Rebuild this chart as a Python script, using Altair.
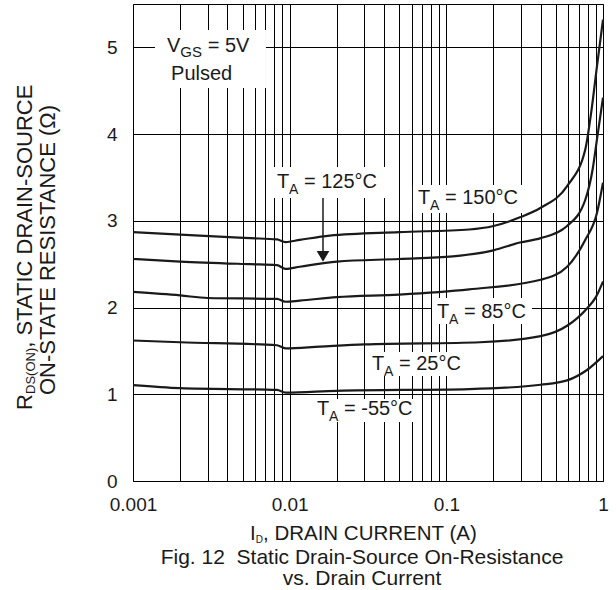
import json
import altair as alt
import pandas as pd

FONT = "Liberation Sans"
INK = "#1a1a1a"

# ---------------- data ----------------
temps = ["150", "125", "85", "25", "-55"]

i_150 = [0.001, 0.002, 0.0056, 0.0083, 0.0094, 0.0116, 0.018, 0.05, 0.14, 0.2, 0.295, 0.40, 0.59, 0.77, 0.845, 0.915, 1.0]
r_150 = [2.87, 2.84, 2.80, 2.785, 2.755, 2.78, 2.83, 2.87, 2.90, 2.94, 3.04, 3.15, 3.40, 3.82, 4.28, 4.78, 5.32]

i_125 = [0.001, 0.002, 0.0056, 0.0083, 0.0094, 0.0116, 0.02, 0.05, 0.11, 0.2, 0.295, 0.40, 0.59, 0.77, 0.86, 0.915, 1.0]
r_125 = [2.56, 2.53, 2.50, 2.49, 2.445, 2.47, 2.53, 2.56, 2.59, 2.66, 2.75, 2.80, 2.94, 3.24, 3.60, 3.94, 4.42]

i_85 = [0.001, 0.002, 0.003, 0.0083, 0.0094, 0.0116, 0.02, 0.05, 0.14, 0.40, 0.59, 0.77, 0.915, 1.0]
r_85 = [2.18, 2.14, 2.11, 2.10, 2.067, 2.08, 2.12, 2.15, 2.21, 2.32, 2.47, 2.78, 3.09, 3.44]

i_25 = [0.001, 0.002, 0.0083, 0.0094, 0.0156, 0.03, 0.164, 0.40, 0.59, 0.79, 0.90, 1.0]
r_25 = [1.62, 1.60, 1.565, 1.53, 1.55, 1.575, 1.60, 1.67, 1.79, 1.99, 2.12, 2.30]

i_m55 = [0.001, 0.002, 0.0083, 0.0094, 0.02, 0.14, 0.40, 0.59, 0.79, 1.0]
r_m55 = [1.105, 1.07, 1.05, 1.018, 1.04, 1.06, 1.11, 1.16, 1.28, 1.44]

currents = [i_150, i_125, i_85, i_25, i_m55]
resists = [r_150, r_125, r_85, r_25, r_m55]

x_grid = [m * 10 ** e for e in (-3, -2, -1) for m in range(1, 10)] + [1]
x_labels = ["0.001", "0.01", "0.1", "1"]
y_ticks = [0, 1, 2, 3, 4, 5]

# ---------------- annotations (data units) ----------------
ann_temps = ["150", "125", "85", "25", "-55"]
ann_x = [0.0659, 0.0083, 0.0871, 0.0335, 0.01494]
ann_y = [3.194, 3.382, 1.876, 1.280, 0.761]
box_x1 = [0.0612, 0.00749, 0.0810, 0.0307, 0.01368, 0.001381]
box_x2 = [0.3083, 0.04242, 0.3521, 0.1395, 0.0689, 0.00706]
box_y1 = [3.090, 3.263, 1.810, 1.211, 0.680, 4.531]
box_y2 = [3.413, 3.620, 2.110, 1.487, 0.945, 5.200]

rows = []
for t, ii, rr in zip(temps, currents, resists):
    for k, (a, b) in enumerate(zip(ii, rr)):
        rows.append({"temp": t, "x": a, "y": b, "order": k})
curves = pd.DataFrame(rows)

boxes = pd.DataFrame({"x": box_x1, "x2": box_x2, "y": box_y1, "y2": box_y2})
ann = pd.DataFrame({
    "x": ann_x, "y": ann_y,
    "T": ["T"] * len(ann_temps),
    "A": ["A"] * len(ann_temps),
    "rest": ["= " + t + "°C" for t in ann_temps],
})

xs = alt.Scale(type="log", domain=[0.001, 1], nice=False)
ys = alt.Scale(domain=[0, 5.5], nice=False, zero=False)

label_expr = (
    "indexof(" + json.dumps(x_labels) + ", format(datum.value, '.3~g')) >= 0"
    " ? format(datum.value, '.3~g') : ''"
)
xaxis = alt.Axis(values=x_grid, labelExpr=label_expr, title=None, labelOverlap=False,
                 labelFlush=False, labelPadding=14, grid=True)
yaxis = alt.Axis(values=y_ticks, title=None, labelPadding=16, grid=True, labelOverlap=False)


def X(f="x"):
    return alt.X(f"{f}:Q", scale=xs, axis=xaxis)


def Y(f="y"):
    return alt.Y(f"{f}:Q", scale=ys, axis=yaxis)


rects = alt.Chart(boxes).mark_rect(color="white").encode(
    x=X(), x2=alt.X2("x2:Q"), y=Y(), y2=alt.Y2("y2:Q"))

lines = alt.Chart(curves).mark_line(color=INK, strokeWidth=2.2, interpolate="monotone").encode(
    x=X(), y=Y(), detail="temp:N", order="order:Q")

txt = dict(font=FONT, color=INK, align="left", baseline="alphabetic")
t_big = alt.Chart(ann).mark_text(fontSize=20, **txt).encode(x=X(), y=Y(), text="T:N")
t_sub = alt.Chart(ann).mark_text(fontSize=14, dx=12, dy=6, **txt).encode(x=X(), y=Y(), text="A:N")
t_rest = alt.Chart(ann).mark_text(fontSize=20, dx=27, **txt).encode(x=X(), y=Y(), text="rest:N")

vgs = pd.DataFrame({"x": [0.00165], "y": [4.95], "V": ["V"], "GS": ["GS"], "rest": ["= 5V"]})
v_big = alt.Chart(vgs).mark_text(fontSize=20, **txt).encode(x=X(), y=Y(), text="V:N")
v_sub = alt.Chart(vgs).mark_text(fontSize=15, dx=13.3, dy=5, **txt).encode(x=X(), y=Y(), text="GS:N")
v_rest = alt.Chart(vgs).mark_text(fontSize=20, dx=40.6, **txt).encode(x=X(), y=Y(), text="rest:N")
pulsed = alt.Chart(pd.DataFrame({"x": [0.00175], "y": [4.624], "t": ["Pulsed"]})).mark_text(
    fontSize=20, **txt).encode(x=X(), y=Y(), text="t:N")

arrow_df = pd.DataFrame({"x": [0.01632], "y": [3.263], "y2": [2.59]})
arrow_line = alt.Chart(arrow_df).mark_rule(color=INK, strokeWidth=1.5).encode(
    x=X(), y=Y(), y2=alt.Y2("y2:Q"))
arrow_head = alt.Chart(arrow_df).mark_point(shape="triangle-down", filled=True, color=INK,
                                            size=160, opacity=1).encode(x=X(), y=Y("y2"))


def ptext(text, px, py, size, angle=0, align="left"):
    return alt.Chart(pd.DataFrame({"t": [text]})).mark_text(
        font=FONT, color=INK, fontSize=size, angle=angle, align=align, baseline="alphabetic"
    ).encode(x=alt.value(px), y=alt.value(py), text="t:N")


titles = [
    ptext("R", -101, 406, 22, 270),
    ptext("DS(ON)", -98, 390, 13, 270),
    ptext(", STATIC DRAIN-SOURCE", -101, 343.8, 22, 270),
    ptext("ON-STATE RESISTANCE (Ω)", -78, 246, 22, 270, "center"),
    ptext("I", 117, 536, 20.5),
    ptext("D", 122.7, 539, 10),
    ptext(", DRAIN CURRENT (A)", 130, 536, 20.5),
    ptext("Fig. 12\u00a0 Static Drain-Source On-Resistance", 229, 560, 21, 0, "center"),
    ptext("vs. Drain Current", 229, 581, 21, 0, "center"),
]

chart = alt.layer(
    rects, lines, t_big, t_sub, t_rest, v_big, v_sub, v_rest, pulsed, arrow_line, arrow_head, *titles
).properties(
    width=470, height=477,
    autosize=alt.AutoSizeParams(type="none"),
    padding={"left": 133, "top": 4, "right": 13, "bottom": 109},
    background="white",
).configure_view(
    stroke="black", strokeWidth=1
).configure_axis(
    domain=False, ticks=False, gridColor="black", gridOpacity=1, gridWidth=1,
    labelFont=FONT, labelFontSize=19, labelColor=INK,
)

chart.save("out.html", embed_options={"renderer": "svg", "actions": False})
